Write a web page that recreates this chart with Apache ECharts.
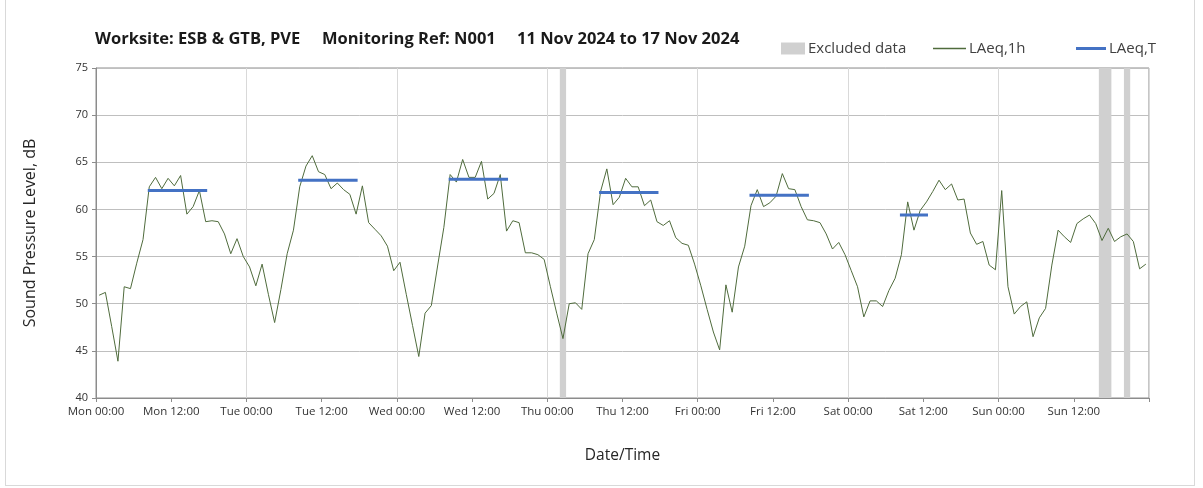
<!DOCTYPE html>
<html>
<head>
<meta charset="utf-8">
<script src="https://cdn.jsdelivr.net/npm/echarts@6/dist/echarts.min.js"></script>
<style>
  html, body { margin: 0; padding: 0; background: #fff; }
  #wrap { position: relative; width: 1203px; height: 488px; }
  #frame { position: absolute; left: 5px; top: -2px; width: 1190px; height: 488px; border: 1px solid #d9d9d9; box-sizing: border-box; }
  #chart { position: absolute; left: 0; top: 0; width: 1203px; height: 488px; }
</style>
</head>
<body>
<div id="wrap">
  <div id="frame"></div>
  <div id="chart"></div>
</div>
<script>
// hourly LAeq,1h values, Mon 00:00 .. Sun 23:00 (168 hours)
const laeq1h = [
  50.9, 51.2, 47.6, 43.9, 51.8, 51.6, 54.3, 56.8, 62.4, 63.4, 62.2, 63.3,
  62.5, 63.6, 59.5, 60.3, 62.0, 58.7, 58.8, 58.7, 57.4, 55.3, 56.9, 55.0,
  53.9, 51.9, 54.2, 51.0, 48.0, 51.5, 55.3, 57.8, 62.4, 64.6, 65.7, 64.0,
  63.7, 62.2, 62.8, 62.1, 61.6, 59.5, 62.5, 58.6, 57.9, 57.2, 56.1, 53.5,
  54.4, 51.0, 47.7, 44.4, 49.0, 49.8, 54.0, 58.1, 63.7, 62.9, 65.3, 63.4,
  63.4, 65.1, 61.1, 61.7, 63.7, 57.7, 58.8, 58.6, 55.4, 55.4, 55.2, 54.7,
  51.8, 49.0, 46.3, 50.0, 50.1, 49.4, 55.3, 56.8, 61.9, 64.3, 60.5, 61.3,
  63.3, 62.4, 62.4, 60.4, 61.0, 58.7, 58.3, 58.8, 57.0, 56.4, 56.2, 54.2,
  51.9, 49.4, 47.0, 45.1, 52.0, 49.1, 53.9, 56.1, 60.4, 62.1, 60.3, 60.7,
  61.4, 63.8, 62.2, 62.1, 60.3, 58.9, 58.8, 58.6, 57.4, 55.8, 56.5, 55.2,
  53.5, 51.8, 48.6, 50.3, 50.3, 49.7, 51.4, 52.7, 55.2, 60.8, 57.8, 59.9,
  60.8, 61.9, 63.1, 62.1, 62.7, 61.0, 61.1, 57.5, 56.3, 56.6, 54.1, 53.6,
  62.0, 51.8, 48.9, 49.7, 50.2, 46.5, 48.5, 49.5, 54.1, 57.8, 57.1, 56.5,
  58.5, 59.0, 59.4, 58.5, 56.7, 58.0, 56.6, 57.1, 57.4, 56.6, 53.7, 54.2
];

// LAeq,T periods (first and last hour index) and levels
const ltFirstHour = [8, 32, 56, 80, 104, 128];
const ltLastHour  = [17, 41, 65, 89, 113, 132];
const ltValue     = [62.0, 63.1, 63.2, 61.8, 61.5, 59.4];

// excluded data periods, hours from Mon 00:00
const excludedFrom = [74, 160, 164];
const excludedTo   = [75, 162, 165];

const dayNames = ['Mon', 'Tue', 'Wed', 'Thu', 'Fri', 'Sat', 'Sun'];

const lineData = laeq1h.map((v, i) => [i + 0.5, v]);
const ltData = [];
ltValue.forEach((v, k) => {
  ltData.push([ltFirstHour[k] + 0.5, v], [ltLastHour[k] + 0.5, v], [ltLastHour[k] + 1, '-']);
});

const chart = echarts.init(document.getElementById('chart'), null, { renderer: 'canvas' });
const txt = '#404040';
const font = '"Open Sans", "DejaVu Sans", sans-serif';
const titleFont = 'bold 16.5px ' + font;

chart.setOption({
  backgroundColor: 'transparent',
  animation: false,
  textStyle: { fontFamily: font },
  graphic: [
    { type: 'text', left: 95, top: 31, style: { text: 'Worksite: ESB & GTB, PVE', font: titleFont, fill: '#1a1a1a' } },
    { type: 'text', left: 322, top: 31, style: { text: 'Monitoring Ref: N001', font: titleFont, fill: '#1a1a1a' } },
    { type: 'text', left: 517, top: 31, style: { text: '11 Nov 2024 to 17 Nov 2024', font: titleFont, fill: '#1a1a1a' } },
  ],
  legend: [
    { left: 776, top: 36, itemWidth: 24, itemHeight: 12, data: [{ name: 'Excluded data', icon: 'rect' }],
      textStyle: { fontSize: 15, color: txt, padding: [0, 0, 0, -2] } },
    { left: 928, top: 36, itemWidth: 33, itemHeight: 1.5, data: [{ name: 'LAeq,1h', icon: 'rect' }],
      textStyle: { fontSize: 15, color: txt, padding: [0, 0, 0, -2] } },
    { left: 1071, top: 36, itemWidth: 30, itemHeight: 3, data: [{ name: 'LAeq,T', icon: 'rect' }],
      textStyle: { fontSize: 15, color: txt, padding: [0, 0, 0, -2] } },
  ],
  grid: { left: 96, right: 54, top: 68, height: 330, show: true, borderColor: '#8c8c8c', borderWidth: 1 },
  xAxis: [
    {
      type: 'value', min: 0, max: 168, interval: 12,
      name: 'Date/Time', nameLocation: 'middle', nameGap: 50,
      nameTextStyle: { fontSize: 15.5, color: '#262626' },
      axisLine: { show: true, lineStyle: { color: '#8c8c8c' } },
      axisTick: { show: true, length: 4, lineStyle: { color: '#8c8c8c' } },
      axisLabel: {
        fontSize: 11.5, color: '#333', margin: 8,
        formatter: v => v >= 168 ? '' : dayNames[Math.floor(v / 24)] + (v % 24 === 0 ? ' 00:00' : ' 12:00'),
      },
      splitLine: { show: false },
    },
    {
      type: 'value', min: 0, max: 168, interval: 24, position: 'bottom',
      axisLine: { show: false }, axisTick: { show: false }, axisLabel: { show: false },
      splitLine: { show: true, lineStyle: { color: '#d9d9d9', width: 1 } },
    },
  ],
  yAxis: {
    type: 'value', min: 40, max: 75, interval: 5,
    name: 'Sound Pressure Level, dB', nameLocation: 'middle', nameGap: 58,
    nameTextStyle: { fontSize: 16, color: '#262626' },
    axisLine: { show: true, lineStyle: { color: '#8c8c8c' } },
    axisTick: { show: true, length: 4, lineStyle: { color: '#8c8c8c' } },
    axisLabel: { fontSize: 11, color: '#333', margin: 8 },
    splitLine: { lineStyle: { color: '#bfbfbf' } },
  },
  series: [
    {
      name: 'Excluded data', type: 'line', data: [], symbol: 'none',
      itemStyle: { color: '#d0d0d0' },
      lineStyle: { color: '#d0d0d0' },
      markArea: {
        silent: true,
        itemStyle: { color: '#d0d0d0' },
        data: excludedFrom.map((s, k) => [{ xAxis: s }, { xAxis: excludedTo[k] }]),
      },
    },
    {
      name: 'LAeq,1h', type: 'line', data: lineData, symbol: 'none',
      itemStyle: { color: '#4f6b3c' },
      lineStyle: { color: '#4f6b3c', width: 1 },
      z: 3,
    },
    {
      name: 'LAeq,T', type: 'line', data: ltData, symbol: 'none', connectNulls: false,
      itemStyle: { color: '#4472c4' },
      lineStyle: { color: '#4472c4', width: 3, cap: 'square' },
      z: 4,
    },
  ],
});
</script>
</body>
</html>
